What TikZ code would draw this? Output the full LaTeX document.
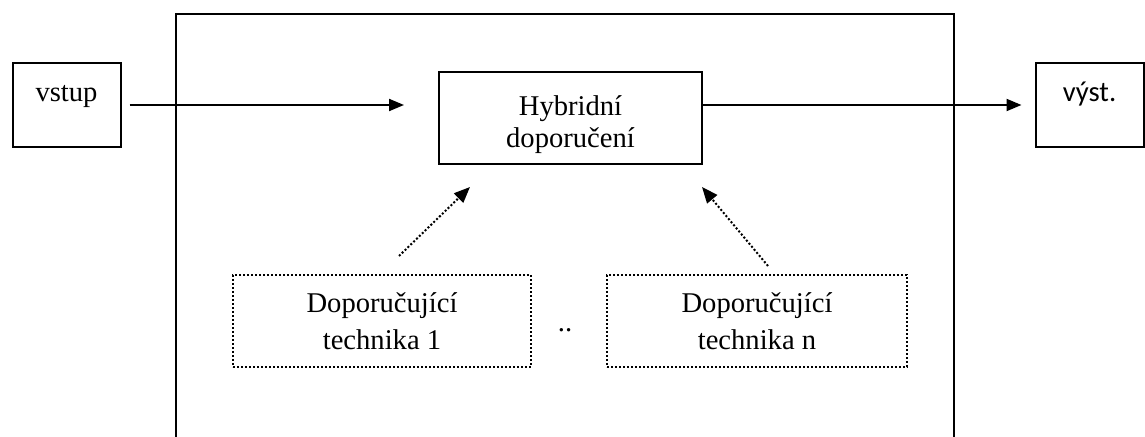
\documentclass[tikz,border=0pt]{standalone}
\usepackage{fontspec}
\setmainfont{Liberation Serif}
\newfontfamily\sansout{Carlito}
\usetikzlibrary{positioning, arrows.meta}

\begin{document}
\begin{tikzpicture}[x=0.5pt, y=-0.5pt,
    box/.style={draw, line width=1pt, inner sep=0pt},
    iobox/.style={box, minimum width=54pt, text height=19.25pt, text depth=22.75pt},
    techbox/.style={draw, line width=0.8pt, dash pattern=on 0.8pt off 1.2pt, inner sep=0pt,
                    minimum height=46pt, align=center, font=\fontsize{14.3}{18.3}\selectfont},
    flow/.style={-{Triangle[length=7.5pt,width=6pt]}, line width=1pt},
    feed/.style={-{Triangle[length=8pt,width=6.5pt]}, line width=1pt, dash pattern=on 1pt off 1pt}]
  \useasboundingbox (0,0) rectangle (1145,437);
  % frame (open at the bottom)
  \draw[line width=1.1pt] (176,437) -- (176,14) -- (954,14) -- (954,437);
  % input / output
  \node[iobox, font=\fontsize{14.3}{17}\selectfont] (vstup) at (66.5,105) {vstup};
  \node[iobox, font=\sansout\fontsize{14.3}{17}\selectfont] (vyst) at (1089.5,105) {výst.};
  % hybrid part
  \node[box, minimum width=131.5pt, minimum height=46pt, align=center,
        font=\fontsize{14.3}{16.3}\selectfont] (hybrid) at (570.5,118)
        {\rule{0pt}{16.4pt}Hybridní\\doporučení};
  % techniques
  \node[techbox, minimum width=149pt] (tech1) at (382,321) {Doporučující\\technika 1};
  \node[techbox, minimum width=150pt] (techn) at (757,321) {Doporučující\\technika n};
  \node[font=\fontsize{14.3}{17}\selectfont, anchor=base] (dots) at (565,332) {..};
  % connectors
  \draw[flow, shorten <=4pt, shorten >=17pt] (vstup.east) -- (vstup.east -| hybrid.west);
  \draw[flow, shorten >=6.5pt] (vstup.east -| hybrid.east) -- (vyst.west);
  \coordinate (from1) at (399,256);
  \coordinate (to1) at (470,187);
  \coordinate (fromn) at (768,266);
  \coordinate (ton) at (702,187);
  \draw[feed] (from1) -- (to1);
  \draw[feed] (fromn) -- (ton);
\end{tikzpicture}
\end{document}
